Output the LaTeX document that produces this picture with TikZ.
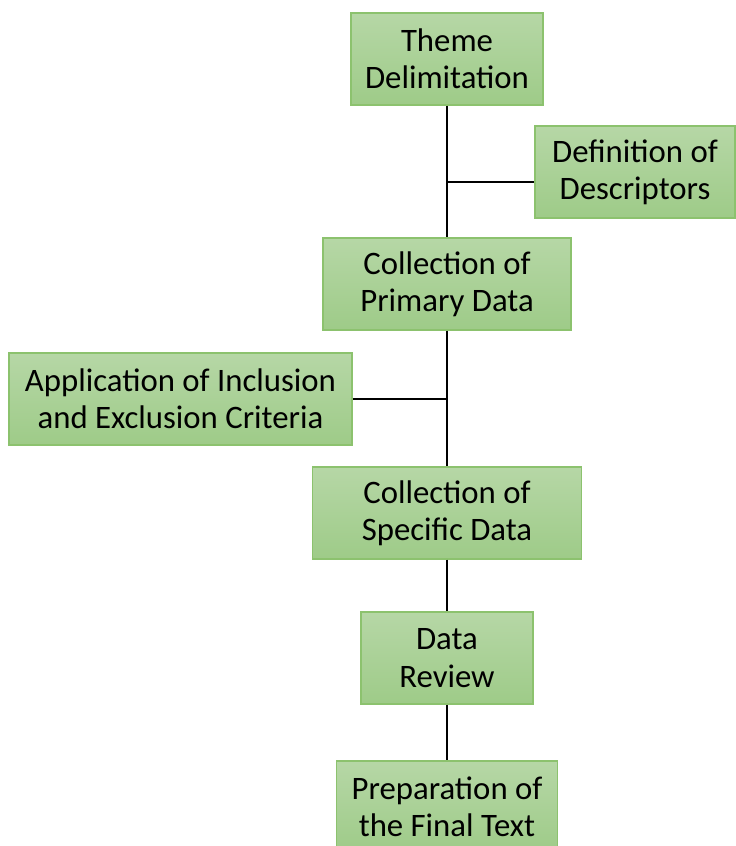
\documentclass[tikz,border=0pt]{standalone}
\usepackage{fontspec}
\setmainfont{Carlito}
\usepackage{tikz}
\usetikzlibrary{shapes,arrows,positioning}
\definecolor{boxtop}{RGB}{182,215,166}
\definecolor{boxbot}{RGB}{158,203,136}
\definecolor{boxrim}{RGB}{140,194,110}
\tikzstyle{gbox} = [rectangle, draw=boxrim, line width=1pt, top color=boxtop, bottom color=boxbot, minimum height=2.3cm, align=center, inner sep=2pt, font=\fontsize{23.3}{26.5}\selectfont]
\tikzstyle{line} = [draw, line width=2pt]

\begin{document}
\begin{tikzpicture}[x=0.025cm, y=-0.025cm]
				\useasboundingbox (0,0) rectangle (735,846);
				\node [gbox, minimum width=4.8cm] (theme) at (447, 59) {Theme\\Delimitation};
				\node [gbox, minimum width=5cm] (desc) at (635, 172) {Definition of\\Descriptors};
				\node [gbox, minimum width=6.2cm] (primary) at (447, 284) {Collection of\\Primary Data};
				\node [gbox, minimum width=8.575cm] (criteria) at (180.5, 399) {Application of Inclusion\\and Exclusion Criteria};
				\node [gbox, minimum width=6.725cm] (specific) at (447, 513) {Collection of\\Specific Data};
				\node [gbox, minimum width=4.3cm] (review) at (447, 658) {Data\\Review};
				\node [gbox, minimum width=5.525cm] (prep) at (447, 807) {Preparation of\\the Final Text};
				\coordinate (j1) at (447, 182);
				\coordinate (j2) at (447, 399);

				\path [line] (theme) -- (primary);
				\path [line] (primary) -- (specific);
				\path [line] (specific) -- (review);
				\path [line] (review) -- (prep);
				\path [line] (j1) -- (j1 -| desc.west);
				\path [line] (criteria) -- (j2);
			\end{tikzpicture}
\end{document}
